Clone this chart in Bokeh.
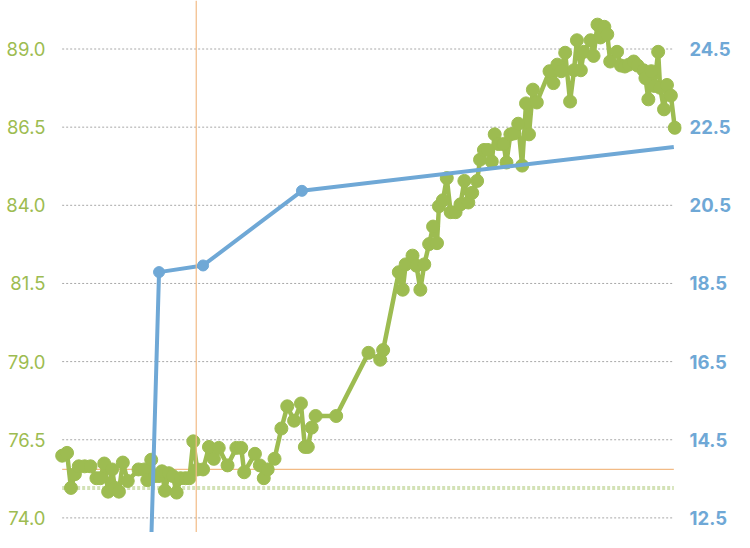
from bokeh.plotting import figure
from bokeh.models import Range1d, LinearAxis, FixedTicker, PrintfTickFormatter, Span
from bokeh.embed import file_html
from bokeh.resources import INLINE

# ---- data ----
left_ticks = [74.0, 76.5, 79.0, 81.5, 84.0, 86.5, 89.0]
right_ticks = [12.5, 14.5, 16.5, 18.5, 20.5, 22.5, 24.5]
x_domain = [0, 125]

green_x = [0.0, 1.0, 1.8, 2.6, 3.4, 4.6, 5.8, 7.0, 7.8, 8.6, 9.4, 10.2, 10.8, 11.6, 12.4, 13.4,
           15.6, 16.8, 17.4, 18.2, 19.0, 19.8, 20.4, 21.0, 21.8, 22.6, 23.4, 24.2, 25.2, 26.0,
           26.8, 27.6, 28.8, 30.0, 31.0, 32.0, 33.8, 35.6, 36.6, 37.2, 39.4, 40.4, 41.2, 42.0,
           43.4, 44.8, 46.0, 47.4, 48.8, 49.6, 50.2, 51.0, 51.8, 56.0, 62.6, 65.0, 65.6, 68.8,
           69.6, 70.2, 71.6, 72.4, 73.2, 74.0, 75.0, 75.8, 76.6, 77.0, 77.8, 78.6, 79.4, 80.4,
           81.4, 82.2, 83.0, 83.8, 84.8, 85.4, 86.2, 87.0, 87.8, 88.4, 89.2, 90.2, 90.8, 91.6,
           92.4, 93.2, 94.0, 94.8, 95.4, 96.2, 97.0, 99.6, 100.4, 101.2, 102.0, 102.8, 103.8,
           104.6, 105.2, 106.0, 106.6, 108.0, 108.6, 109.4, 110.0, 110.8, 111.4, 112.0, 113.4,
           114.2, 115.0, 115.8, 116.8, 117.6, 118.8, 119.2, 119.8, 120.4, 121.0, 121.8, 122.2,
           123.0, 123.6, 124.4, 125.2]
green_y = [75.99, 76.08, 74.96, 75.40, 75.65, 75.65, 75.65, 75.27, 75.27, 75.74, 74.84, 75.55,
           74.96, 74.84, 75.77, 75.18, 75.55, 75.55, 75.21, 75.86, 75.34, 75.34, 75.49, 74.87,
           75.43, 75.34, 74.81, 75.27, 75.27, 75.27, 76.45, 75.55, 75.55, 76.27, 75.89, 76.24,
           75.68, 76.24, 76.24, 75.46, 76.05, 75.68, 75.27, 75.55, 75.89, 76.86, 77.57, 77.11,
           77.66, 76.27, 76.27, 76.89, 77.26, 77.26, 79.28, 79.06, 79.37, 81.86, 81.30, 82.11,
           82.39, 82.07, 81.30, 82.11, 82.76, 83.32, 82.79, 83.97, 84.16, 84.87, 83.78, 83.78,
           84.03, 84.78, 84.09, 84.40, 84.78, 85.46, 85.77, 85.77, 85.40, 86.27, 85.96, 85.96,
           85.37, 86.27, 86.30, 86.61, 85.27, 87.26, 86.27, 87.70, 87.29, 88.29, 87.91, 88.50,
           88.29, 88.88, 87.32, 88.32, 89.28, 88.32, 88.91, 89.28, 88.78, 89.78, 89.37, 89.71,
           89.47, 88.60, 88.91, 88.47, 88.44, 88.50, 88.60, 88.47, 88.32, 88.07, 87.39, 88.29,
           87.82, 88.91, 87.76, 87.07, 87.85, 87.51, 86.48]

blue_x = [18.0, 19.8, 28.8, 49.0, 125.0]
blue_y = [11.0, 18.79, 18.96, 20.87, 21.99]

marker_day = 27.4
orange_level = 75.55
baseline_level = 74.96

GREEN = "#9dbc51"
BLUE = "#6fa8d6"
ORANGE = "#f2bb86"
PALE_GREEN = "#d3e2b6"
FONT = "Inter"

p = figure(width=734, height=532, output_backend="svg", toolbar_location=None,
           x_range=Range1d(-1.565, 126.57), y_range=Range1d(73.533, 90.552),
           x_axis_location=None, y_axis_location="left",
           min_border_left=54, min_border_right=53, min_border_top=0, min_border_bottom=0)
p.extra_y_ranges = {"right": Range1d(12.126, 25.741)}
p.outline_line_color = None
p.xgrid.visible = False
p.ygrid.visible = False
p.background_fill_color = "white"
p.border_fill_color = "white"

ly = p.yaxis[0]
ly.ticker = FixedTicker(ticks=left_ticks)
ly.formatter = PrintfTickFormatter(format="%.1f")
ly.axis_line_color = None
ly.major_tick_line_color = None
ly.minor_tick_line_color = None
ly.major_label_text_color = GREEN
ly.major_label_text_font = FONT
ly.major_label_text_font_size = "18.5px"
ly.major_label_standoff = 3

ry = LinearAxis(y_range_name="right", ticker=FixedTicker(ticks=right_ticks),
                formatter=PrintfTickFormatter(format="%.1f"))
ry.axis_line_color = None
ry.major_tick_line_color = None
ry.minor_tick_line_color = None
ry.major_label_text_color = BLUE
ry.major_label_text_font = FONT
ry.major_label_text_font_size = "18.5px"
ry.major_label_text_font_style = "bold"
ry.major_label_standoff = 2
p.add_layout(ry, "right")

# gridlines across the data domain
p.segment(x0=[x_domain[0]] * len(left_ticks), x1=[x_domain[1]] * len(left_ticks),
          y0=left_ticks, y1=left_ticks, line_color="#a8a8a8", line_width=1, line_dash="2 2")

# reference lines
p.add_layout(Span(location=marker_day, dimension="height", line_color=ORANGE, line_width=1.2))
p.segment(x0=[x_domain[0]], x1=[x_domain[1]], y0=[orange_level], y1=[orange_level],
          line_color=ORANGE, line_width=1.2)
p.segment(x0=[x_domain[0]], x1=[x_domain[1]], y0=[baseline_level], y1=[baseline_level],
          line_color=PALE_GREEN, line_width=4, line_dash="3 2")

# green series
p.line(green_x, green_y, line_color=GREEN, line_width=4.5)
p.scatter(green_x, green_y, size=13, fill_color=GREEN, line_color=GREEN)

# blue series (right axis)
p.line(blue_x, blue_y, line_color=BLUE, line_width=4, y_range_name="right")
p.scatter(blue_x[1:-1], blue_y[1:-1], size=11, fill_color=BLUE, line_color=BLUE,
          y_range_name="right")

open("out.html", "w").write(file_html(p, INLINE))
